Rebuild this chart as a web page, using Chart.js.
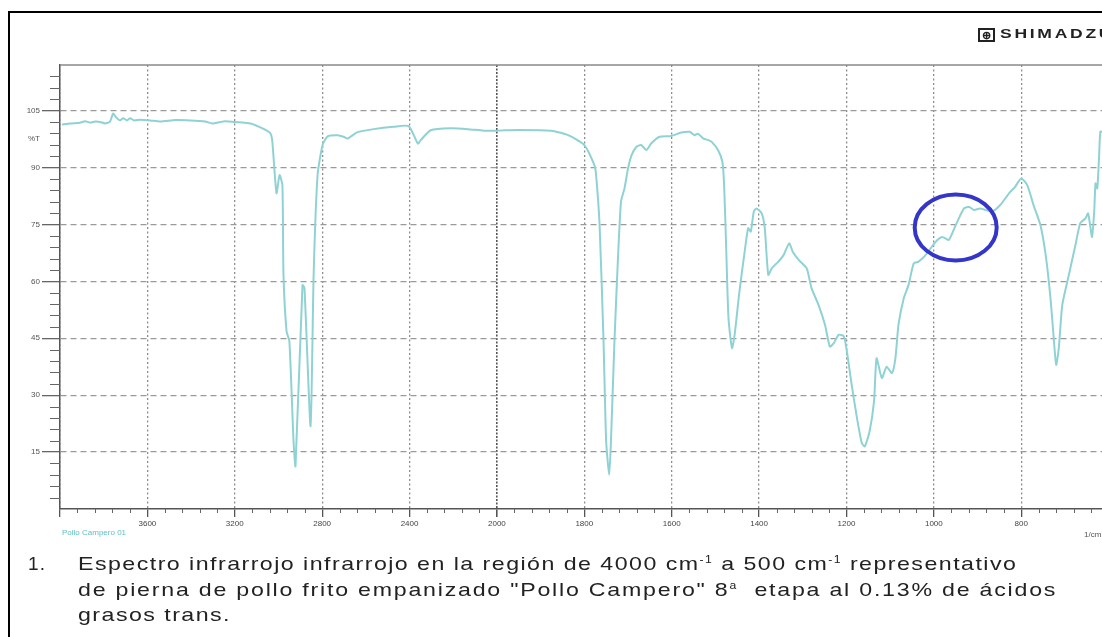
<!DOCTYPE html>
<html>
<head>
<meta charset="utf-8">
<title>Espectro IR - Pollo Campero</title>
<script src="https://cdn.jsdelivr.net/npm/chart.js@4.4.0/dist/chart.umd.min.js"></script>
<style>
    html, body { margin: 0; padding: 0; background: #fff; width: 1102px; height: 637px; overflow: hidden; }
    #frame { position: absolute; left: 8px; top: 11px; width: 1200px; height: 700px;
             border-left: 2px solid #000; border-top: 2px solid #000; }
    #specChart { position: absolute; left: 0; top: 0; }
    .logo { position: absolute; left: 978px; top: 28px; white-space: nowrap;
            font-family: 'Liberation Sans', Arial, sans-serif; font-weight: bold; font-size: 13px;
            color: #222; }
    .logo .box { position: absolute; left: 0; top: 0; width: 13px; height: 10px; border: 2px solid #222;
                 font-size: 11px; line-height: 10px; text-align: center; }
    .logo .word { position: absolute; left: 22px; top: -2px; letter-spacing: 2px;
                  transform: scaleX(1.35); transform-origin: 0 0; }
    .sample { position: absolute; left: 62px; top: 528px; font-family: 'Liberation Sans', Arial, sans-serif;
              font-size: 8px; color: #5fc0c4; }
    .unit { position: absolute; left: 1084px; top: 530px; font-family: 'Liberation Sans', Arial, sans-serif;
            font-size: 8px; color: #555; }
    .caption { position: absolute; left: 28px; top: 551px; font-family: 'Liberation Sans', Arial, sans-serif;
               font-size: 19px; line-height: 25.5px; color: #222; letter-spacing: 1.2px; }
    .caption .num { position: absolute; left: 0; top: 0; }
    .caption .txt { position: absolute; left: 50px; top: 0; white-space: nowrap;
                    transform: scaleX(1.22); transform-origin: 0 0; }
    .caption .l2 { letter-spacing: 1.45px; }
    .caption sup { font-size: 10px; line-height: 0; }
</style>
</head>
<body>
<div id="frame"></div>
<canvas id="specChart" width="1200" height="637"></canvas>
<div class="logo"><span class="box">&#8853;</span><span class="word">SHIMADZU</span></div>
<div class="sample">Pollo Campero 01</div>
<div class="unit">1/cm</div>
<div class="caption">
    <span class="num">1.</span>
    <span class="txt">Espectro infrarrojo infrarrojo en la región de 4000 cm<sup>-1</sup> a 500 cm<sup>-1</sup> representativo<br><span class="l2">de pierna de pollo frito empanizado "Pollo Campero" 8<sup>a</sup>&nbsp; etapa al 0.13% de ácidos</span><br>grasos trans.</span>
</div>
<script>
// ===== SPECTRUM DATA =====
const wavenumbers = [
    3991, 3954, 3908, 3885, 3862, 3839, 3817, 3794, 3771, 3757, 3743, 3725, 3711, 3693, 3679, 3661,
    3633, 3587, 3541, 3472, 3404, 3335, 3303, 3243, 3202, 3128, 3073, 3037, 3028, 3009, 2995, 2982,
    2977, 2963, 2950, 2931, 2922, 2890, 2881, 2853, 2839, 2821, 2798, 2775, 2729, 2702, 2684, 2638,
    2564, 2473, 2404, 2362, 2349, 2303, 2211, 2133, 2060, 2000, 1952, 1876, 1837, 1800, 1777, 1773,
    1765, 1756, 1750, 1743, 1739, 1731, 1723, 1716, 1708, 1700, 1692, 1681, 1670, 1658, 1647, 1628,
    1601, 1578, 1559, 1548, 1540, 1527, 1516, 1509, 1494, 1484, 1480, 1475, 1470, 1462, 1456, 1445,
    1433, 1425, 1419, 1412, 1406, 1394, 1387, 1379, 1371, 1356, 1344, 1331, 1323, 1309, 1291, 1280,
    1264, 1249, 1238, 1229, 1218, 1206, 1199, 1188, 1176, 1165, 1158, 1147, 1137, 1131, 1119, 1108,
    1096, 1088, 1081, 1069, 1058, 1046, 1035, 1019, 996, 981, 966, 950, 931, 919, 908, 894,
    867, 848, 828, 814, 800, 786, 772, 756, 744, 733, 725, 720, 714, 706, 691, 676,
    665, 653, 647, 642, 638, 633, 630, 626, 622, 619, 614
];
const transmittance = [
    101.3, 101.6, 101.8, 102.2, 101.8, 102.1, 102.0, 101.6, 102.1, 104.2, 103.2, 102.4, 103.0, 102.4, 103.0, 102.4,
    102.6, 102.4, 102.1, 102.5, 102.4, 102.1, 101.6, 102.2, 102.0, 101.6, 100.3, 99.0, 96.8, 83.2, 88.0, 85.3,
    61.7, 46.8, 44.2, 17.9, 11.3, 59.0, 58.2, 21.8, 61.7, 88.0, 95.9, 98.2, 98.5, 98.1, 97.6, 99.3,
    100.1, 100.7, 100.9, 96.3, 97.2, 99.8, 100.3, 100.1, 99.7, 99.7, 99.9, 99.7, 98.5, 95.9, 90.6, 88.0,
    74.8, 44.2, 17.9, 9.0, 17.9, 44.2, 66.0, 81.0, 84.5, 89.7, 93.2, 95.4, 95.9, 94.6, 96.3, 98.1,
    98.3, 99.2, 99.4, 98.5, 98.9, 97.6, 97.2, 96.8, 94.6, 91.5, 85.3, 67.8, 50.3, 42.4, 45.9, 57.3,
    67.8, 74.0, 73.1, 78.4, 79.2, 77.9, 74.0, 61.7, 63.4, 65.2, 66.9, 70.0, 67.8, 65.6, 63.4, 58.2,
    53.8, 48.5, 42.8, 43.7, 45.9, 45.5, 41.5, 32.7, 24.0, 17.4, 16.5, 20.5, 28.3, 39.7, 34.5, 37.5,
    35.8, 39.7, 48.5, 55.5, 59.0, 64.7, 65.2, 66.9, 70.4, 71.7, 70.9, 74.8, 79.2, 79.6, 78.8, 79.2,
    78.4, 80.1, 83.2, 84.9, 87.1, 85.3, 80.1, 74.8, 66.9, 55.5, 44.1, 38.0, 42.4, 53.8, 61.7, 69.5,
    75.3, 76.6, 77.9, 74.5, 71.7, 78.4, 85.8, 84.5, 92.4, 99.4, 99.4
];

// axis labels
const xTickLabels = [3600, 3200, 2800, 2400, 2000, 1800, 1600, 1400, 1200, 1000, 800];
const yTickLabels = [15, 30, 45, 60, 75, 90, 105];
const yUnitLabel = '%T';

// circled region (drawn by hand on the print)
const markWavenumber = 950;
const markTransmittance = 74.2;

// Shimadzu x axis: 4000-2000 at half scale, 2000-400 at full scale
function toAxis(w) {
    return w >= 2000 ? (4000 - w) / 2 : 1000 + (2000 - w);
}
function fromAxis(u) {
    return u <= 1000 ? 4000 - 2 * u : 2000 - (u - 1000);
}

const points = wavenumbers.map((w, i) => ({ x: toAxis(w), y: transmittance[i] }));

// ===== DECORATION PLUGIN: minor ticks, top frame, hand-drawn ellipse =====
const decorPlugin = {
    id: 'decor',
    beforeDatasetsDraw(chart) {
        const { ctx, chartArea, scales } = chart;
        ctx.save();
        ctx.strokeStyle = '#8a8a8a';
        ctx.lineWidth = 1.5;
        ctx.beginPath();
        ctx.moveTo(chartArea.left, chartArea.top);
        ctx.lineTo(chartArea.right, chartArea.top);
        ctx.stroke();

        ctx.strokeStyle = '#666';
        ctx.lineWidth = 1;
        for (let v = 3; v < 117; v += 3) {
            if (v % 15 === 0) continue;
            const y = Math.round(scales.y.getPixelForValue(v)) + 0.5;
            ctx.beginPath();
            ctx.moveTo(chartArea.left - 10, y);
            ctx.lineTo(chartArea.left, y);
            ctx.stroke();
        }
        for (let u = 40; u < 2600; u += 40) {
            if (u % 200 === 0) continue;
            const x = Math.round(scales.x.getPixelForValue(u)) + 0.5;
            ctx.beginPath();
            ctx.moveTo(x, chartArea.bottom);
            ctx.lineTo(x, chartArea.bottom + 4);
            ctx.stroke();
        }
        ctx.restore();
    },
    afterDatasetsDraw(chart) {
        const { ctx, scales } = chart;
        const cx = scales.x.getPixelForValue(toAxis(markWavenumber));
        const cy = scales.y.getPixelForValue(markTransmittance);
        ctx.save();
        ctx.strokeStyle = '#3436c9';
        ctx.lineWidth = 4;
        ctx.beginPath();
        ctx.ellipse(cx, cy, 41, 33, 0, 0, Math.PI * 2);
        ctx.stroke();
        ctx.restore();
    }
};

document.addEventListener('DOMContentLoaded', function() {
    Chart.defaults.font.family = "'Liberation Sans', Arial, sans-serif";

    new Chart(document.getElementById('specChart'), {
        type: 'line',
        data: {
            datasets: [{
                label: 'Pollo Campero 01',
                data: points,
                borderColor: '#8fd2d3',
                borderWidth: 2,
                pointRadius: 0,
                tension: 0.2,
                fill: false
            }]
        },
        options: {
            responsive: false,
            animation: false,
            devicePixelRatio: 1,
            layout: { padding: { left: 0, top: 65, right: 4, bottom: 100 } },
            plugins: { legend: { display: false }, tooltip: { enabled: false } },
            scales: {
                x: {
                    type: 'linear',
                    min: 0,
                    max: 2600,
                    afterBuildTicks(scale) {
                        const ticks = [{ value: 0 }];
                        xTickLabels.forEach(w => ticks.push({ value: toAxis(w) }));
                        ticks.push({ value: 2400 }, { value: 2600 });
                        scale.ticks = ticks;
                    },
                    afterFit(scale) { scale.height = 28; },
                    ticks: {
                        autoSkip: false,
                        maxRotation: 0,
                        padding: 2,
                        color: '#444',
                        font: { size: 8 },
                        callback: function(value) {
                            const w = fromAxis(value);
                            return xTickLabels.includes(w) ? String(w) : '';
                        }
                    },
                    grid: {
                        drawOnChartArea: true,
                        color: ctx => ctx.tick && ctx.tick.value === 1000 ? '#555' : '#8c8c8c',
                        lineWidth: ctx => ctx.tick && ctx.tick.value === 1000 ? 1.6 : 1.3,
                        tickColor: '#555',
                        tickLength: 8
                    },
                    border: {
                        display: true,
                        color: '#555',
                        width: 1.5,
                        dash: ctx => ctx.tick && ctx.tick.value === 1000 ? [2, 1.5] : [2, 2.5]
                    }
                },
                y: {
                    min: 0,
                    max: 117,
                    afterBuildTicks(scale) {
                        const ticks = yTickLabels.map(v => ({ value: v }));
                        ticks.push({ value: 97.5 });
                        scale.ticks = ticks.sort((a, b) => a.value - b.value);
                    },
                    afterFit(scale) { scale.width = 60; },
                    ticks: {
                        padding: 2,
                        color: '#555',
                        font: { size: 8 },
                        callback: function(value) {
                            return value === 97.5 ? yUnitLabel : String(value);
                        }
                    },
                    grid: {
                        color: ctx => ctx.tick && ctx.tick.value === 97.5 ? 'rgba(0,0,0,0)' : '#9a9a9a',
                        tickColor: ctx => ctx.tick && ctx.tick.value === 97.5 ? 'rgba(0,0,0,0)' : '#666',
                        lineWidth: 1.3,
                        tickLength: 18
                    },
                    border: {
                        display: true,
                        color: '#555',
                        width: 1.5,
                        dash: [6, 4]
                    }
                }
            }
        },
        plugins: [decorPlugin]
    });
});
</script>
</body>
</html>
